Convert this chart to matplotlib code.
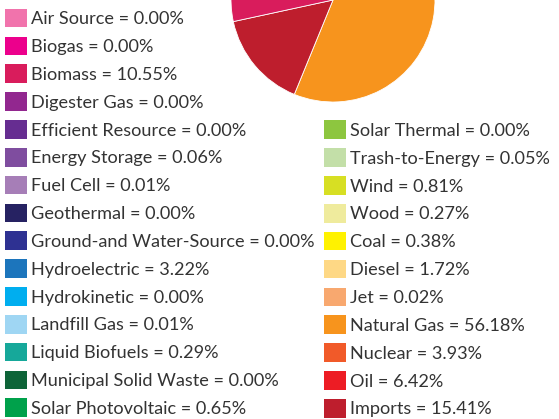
import matplotlib.pyplot as plt
from matplotlib.patches import Patch

# energy sources, share of generation (%) and colours, in legend order
labels = ['Air Source', 'Biogas', 'Biomass', 'Digester Gas', 'Efficient Resource',
          'Energy Storage', 'Fuel Cell', 'Geothermal', 'Ground-and Water-Source',
          'Hydroelectric', 'Hydrokinetic', 'Landfill Gas', 'Liquid Biofuels',
          'Municipal Solid Waste', 'Solar Photovoltaic', 'Solar Thermal',
          'Trash-to-Energy', 'Wind', 'Wood', 'Coal', 'Diesel', 'Jet',
          'Natural Gas', 'Nuclear', 'Oil', 'Imports']
values = [0.00, 0.00, 10.55, 0.00, 0.00,
          0.06, 0.01, 0.00, 0.00,
          3.22, 0.00, 0.01, 0.29,
          0.00, 0.65, 0.00,
          0.05, 0.81, 0.27, 0.38, 1.72, 0.02,
          56.18, 3.93, 6.42, 15.41]
colors = ['#F173AC', '#EC008C', '#D91C5C', '#92278F', '#662D91',
          '#7F4D9F', '#A67EB7', '#262262', '#2E3192',
          '#1C75BC', '#00AEEF', '#9FD6F3', '#16A89A',
          '#0E6438', '#00A14B', '#8DC63F',
          '#C3DFA8', '#D7DF23', '#EFEB9D', '#FFF200', '#FED885', '#F8A86F',
          '#F7941D', '#F15A29', '#ED1C24', '#BE1E2D']

plt.rcParams['font.family'] = ['Lato', 'DejaVu Sans']

W, H = 559, 419
fig = plt.figure(figsize=(W / 100, H / 100), dpi=100)

# pie: largest slice first, clockwise from 12 o'clock; top half is off the canvas
order = sorted(range(len(values)), key=lambda i: -values[i])
r = 102
ax = fig.add_axes([(333 - r) / W, (H - r) / H, 2 * r / W, 2 * r / H])
ax.pie([values[i] for i in order], colors=[colors[i] for i in order],
       startangle=90, counterclock=False,
       wedgeprops=dict(edgecolor='white', linewidth=0.6))
ax.set_xlim(-1, 1)
ax.set_ylim(-1, 1)
ax.set_aspect('equal')

handles = [Patch(facecolor=c, edgecolor='none') for c in colors]
texts = [f'{n} = {v:.2f}%' for n, v in zip(labels, values)]
opts = dict(frameon=False, prop=dict(size=13.1),
            handlelength=1.2, handleheight=1.2, handletextpad=0.25,
            labelspacing=0.505, borderpad=0, borderaxespad=0,
            labelcolor='#333333', loc='upper left')
fig.legend(handles[:15], texts[:15], bbox_to_anchor=(5 / W, 1 - 8.7 / H), **opts)
fig.legend(handles[15:], texts[15:], bbox_to_anchor=(324 / W, 1 - 120.5 / H), **opts)

fig.savefig('out.png', dpi=100)
